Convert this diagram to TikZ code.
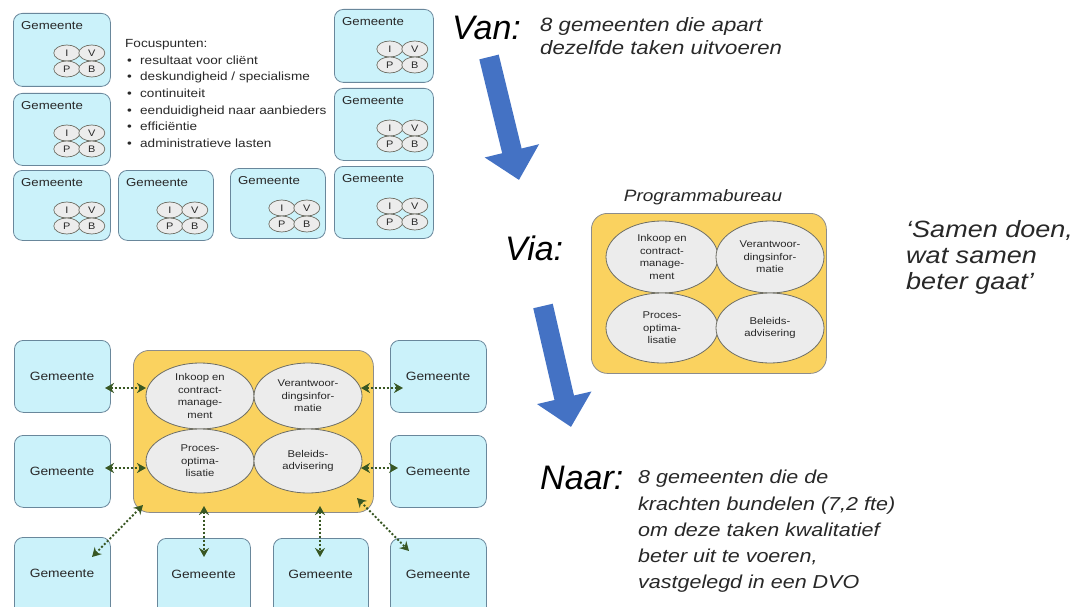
\documentclass[tikz,border=0pt]{standalone}
\usepackage{fontspec}
\setmainfont{Liberation Sans}[FakeStretch=1.15]
\newfontfamily\bigfont{Liberation Sans}[FakeStretch=1.0]
\usetikzlibrary{shapes.geometric,arrows.meta,calc}
\definecolor{gemfill}{RGB}{203,242,250}
\definecolor{gemborder}{RGB}{105,135,155}
\definecolor{yfill}{RGB}{250,210,95}
\definecolor{yborder}{RGB}{140,140,140}
\definecolor{efill}{RGB}{236,236,236}
\definecolor{eborder}{RGB}{110,110,100}
\definecolor{dgreen}{RGB}{56,87,35}
\definecolor{ablue}{RGB}{68,114,196}
\definecolor{txt}{RGB}{40,40,40}
\def\myslash{/}
\begin{document}
\begin{tikzpicture}[x=1pt,y=-1pt,
  gembox/.style={draw=gemborder, fill=gemfill, rounded corners=9pt, line width=0.8pt, inner sep=0pt},
  gemlabel/.style={font=\fontsize{11.5}{12}\selectfont, text=txt, inner sep=0pt},
  gemlabelb/.style={font=\fontsize{12}{12}\selectfont, text=txt, inner sep=0pt},
  se/.style={ellipse, draw=eborder, fill=efill, line width=0.7pt, minimum width=26pt, minimum height=16pt, inner sep=0pt, font=\fontsize{9.5}{9.5}\selectfont, text=txt},
  be/.style={ellipse, draw=eborder, fill=efill, line width=0.8pt, minimum width=108pt, minimum height=68pt, inner sep=0pt, align=center, font=\fontsize{9.8}{12.5}\selectfont, text=txt},
  ybox/.style={draw=yborder, fill=yfill, rounded corners=16pt, line width=0.8pt, inner sep=0pt},
  dotarrow/.style={draw=dgreen, line width=1.9pt, dash pattern=on 2pt off 2pt, {Stealth[length=9pt,width=10pt]}-{Stealth[length=9pt,width=10pt]}},
  bluearrow/.style={draw=ablue, line width=20pt, -{Triangle[length=30pt,width=54pt]}},
  big/.style={font=\bigfont\itshape\fontsize{34}{34}\selectfont, text=black, inner sep=0pt},
  itx/.style={font=\itshape\fontsize{18.7}{20}\selectfont, text=txt, inner sep=0pt},
  vtx/.style={font=\itshape\fontsize{19.3}{20}\selectfont, text=txt, inner sep=0pt},
  qtx/.style={font=\itshape\fontsize{23.5}{24}\selectfont, text=txt, inner sep=0pt},
  focus/.style={font=\fontsize{11.8}{12}\selectfont, text=txt, inner sep=0pt}
]
\useasboundingbox (0,0) rectangle (1081,607);
\fill[white] (0,0) rectangle (1081,607);

% ---------- Top-left: 8 separate municipalities ----------
\foreach \n/\x/\y/\w/\h in {t1/13/13/97/73, t2/13/93/97/72, t3/13/170/97/70, t4/118/170/95/70, t5/230/168/95/70, t6/334/9/99/73, t7/334/88/99/72, t8/334/166/99/72} {
  \node[gembox, minimum width=\w pt, minimum height=\h pt, anchor=north west] (\n) at (\x,\y) {};
  \node[gemlabel, anchor=west] (\n-l) at ($(\n.north west)+(8,13)$) {Gemeente};
  \node[se] (\n-i) at ($(\n.north east)+(-44,40)$) {I};
  \node[se] (\n-v) at ($(\n.north east)+(-19,40)$) {V};
  \node[se] (\n-p) at ($(\n.north east)+(-44,56)$) {P};
  \node[se] (\n-b) at ($(\n.north east)+(-19,56)$) {B};
}

\node[focus, anchor=base west] (fp) at (125,48) {Focuspunten:};
\foreach \k/\t/\yy in {1/resultaat voor cliënt/65, 2/deskundigheid \myslash{} specialisme/81, 3/continuiteit/98, 4/eenduidigheid naar aanbieders/114, 5/efficiëntie/131, 6/administratieve lasten/147} {
  \node[focus, anchor=base west] (fb\k) at (127,\yy) {•};
  \node[focus, anchor=base west] (ft\k) at (140,\yy) {\t};
}

% ---------- Text labels ----------
\node[big, anchor=base west] (van) at (452,40) {Van:};
\node[vtx, anchor=base west] (van1) at (540,32) {8 gemeenten die apart};
\node[vtx, anchor=base west] (van2) at (540,55) {dezelfde taken uitvoeren};

\node[big, anchor=base west] (via) at (505,260) {Via:};

\node[big, anchor=base west] (naar) at (540,489) {Naar:};
\foreach \k/\t/\yy in {1/8 gemeenten die de/483, 2/krachten bundelen (7{,}2 fte)/510, 3/om deze taken kwalitatief/536, 4/{beter uit te voeren,}/562, 5/vastgelegd in een DVO/588} {
  \node[itx, anchor=base west] (naar\k) at (638,\yy) {\t};
}

\node[qtx, anchor=base west] (q1) at (906,237) {‘Samen doen,};
\node[qtx, anchor=base west] (q2) at (906,263) {wat samen};
\node[qtx, anchor=base west] (q3) at (906,289) {beter gaat’};

% ---------- Programmabureau ----------
\node[font=\itshape\fontsize{16.5}{16}\selectfont, text=txt, inner sep=0pt, anchor=base] (pbt) at (703,201) {Programmabureau};
\node[ybox, minimum width=235pt, minimum height=160pt, anchor=north west] (pb) at (591,213) {};
\node[be, minimum width=112pt, minimum height=72pt] (pb-i) at (662,257) {Inkoop en\\contract-\\manage-\\ment};
\node[be, minimum width=108pt, minimum height=72pt] (pb-v) at (770,257) {Verantwoor-\\dingsinfor-\\matie};
\node[be, minimum width=112pt, minimum height=70pt] (pb-p) at (662,328) {Proces-\\optima-\\lisatie};
\node[be, minimum width=108pt, minimum height=70pt] (pb-b) at (770,328) {Beleids-\\advisering};

% ---------- Blue arrows ----------
\coordinate (a1s) at (489,57);
\coordinate (a1e) at (519,180);
\draw[bluearrow] (a1s) -- (a1e);
\coordinate (a2s) at (543,306);
\coordinate (a2e) at (571,427);
\draw[bluearrow] (a2s) -- (a2e);

% ---------- Bottom: shared bureau ----------
\node[ybox, minimum width=240pt, minimum height=162pt, anchor=north west] (sb) at (133,350) {};
\node[be, minimum width=108pt, minimum height=66pt] (sb-i) at (200,396) {Inkoop en\\contract-\\manage-\\ment};
\node[be, minimum width=108pt, minimum height=66pt] (sb-v) at (308,396) {Verantwoor-\\dingsinfor-\\matie};
\node[be, minimum width=108pt, minimum height=64pt] (sb-p) at (200,461) {Proces-\\optima-\\lisatie};
\node[be, minimum width=108pt, minimum height=64pt] (sb-b) at (308,461) {Beleids-\\advisering};

\foreach \n/\x/\y/\w/\h/\ly in {g1/14/340/96/72/376, g2/14/435/96/72/471, g3/14/537/96/80/573, g4/157/538/93/80/574, g5/273/538/95/80/574, g6/390/538/96/80/574, g7/390/340/96/72/376, g8/390/435/96/72/471} {
  \node[gembox, minimum width=\w pt, minimum height=\h pt, anchor=north west] (\n) at (\x,\y) {};
  \node[gemlabelb] (\n-l) at (\x+\w/2,\ly) {Gemeente};
}

% dotted connectors
\coordinate (c1a) at (105,388); \coordinate (c1b) at (146,388);
\coordinate (c2a) at (105,468); \coordinate (c2b) at (146,468);
\coordinate (c3a) at (361,388); \coordinate (c3b) at (403,388);
\coordinate (c4a) at (361,468); \coordinate (c4b) at (398,468);
\coordinate (c5a) at (143,505); \coordinate (c5b) at (92,557);
\coordinate (c6a) at (204,506); \coordinate (c6b) at (204,557);
\coordinate (c7a) at (320,506); \coordinate (c7b) at (320,557);
\coordinate (c8a) at (357,498); \coordinate (c8b) at (409,551);
\foreach \c in {1,...,8} { \draw[dotarrow] (c\c a) -- (c\c b); }
\end{tikzpicture}
\end{document}
